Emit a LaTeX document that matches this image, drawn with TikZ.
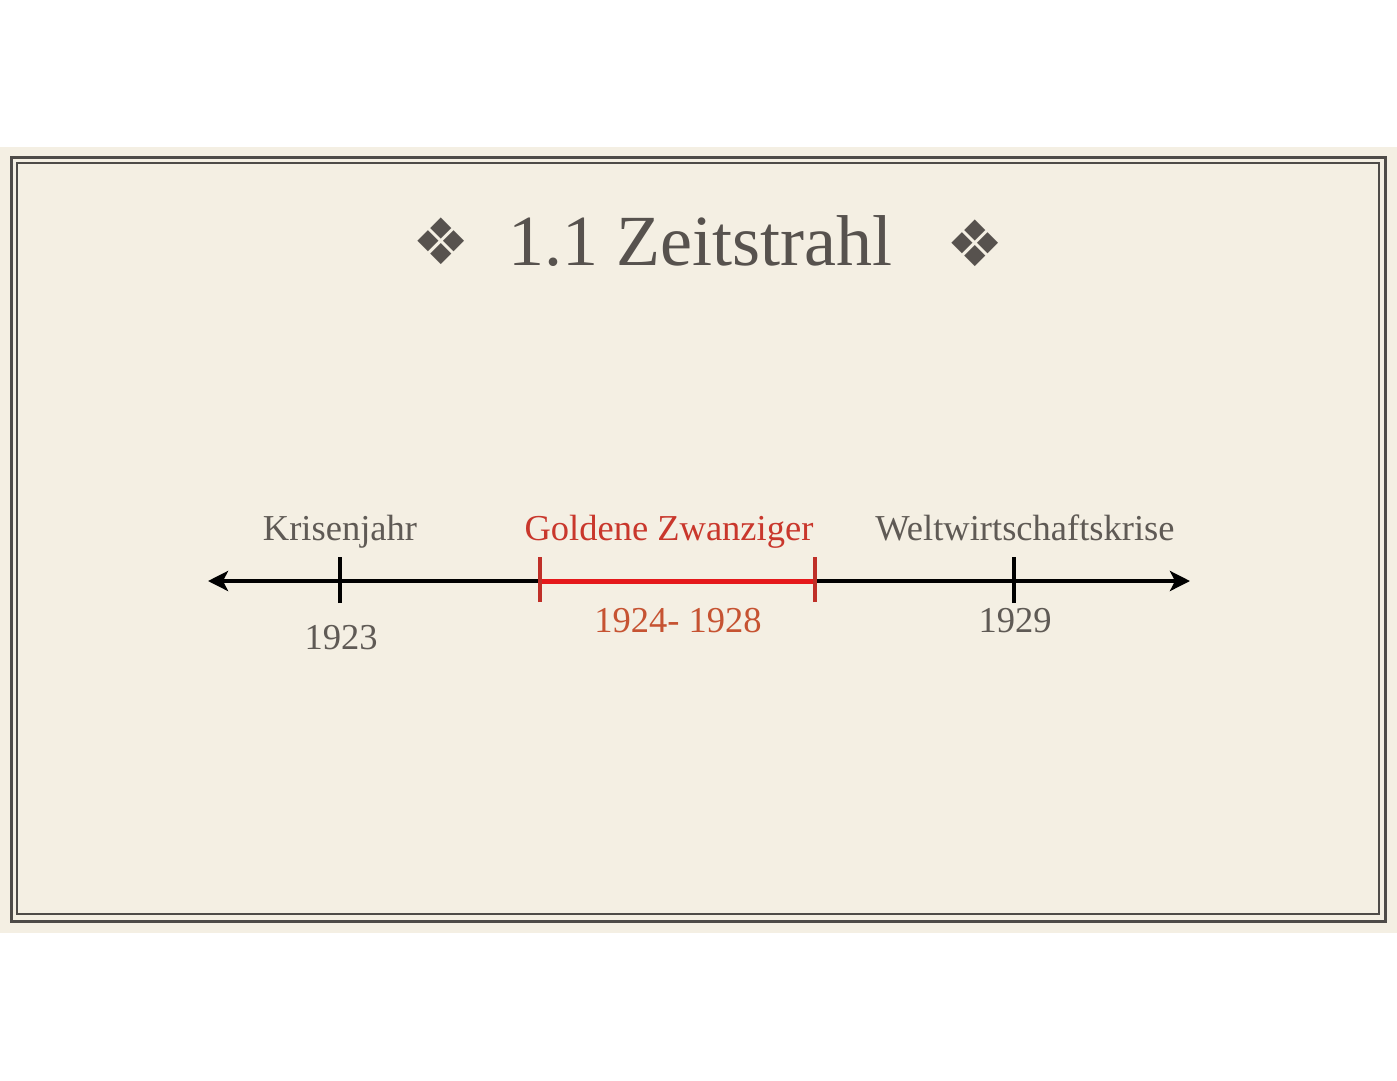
\documentclass[tikz,border=0pt]{standalone}
\usepackage{fontspec}
\setmainfont{Liberation Serif}
\newfontfamily\symfont{DejaVu Sans}
\usetikzlibrary{arrows.meta}
\definecolor{slidebg}{HTML}{F4EFE3}
\definecolor{framegrey}{HTML}{4E4B48}
\definecolor{textgrey}{HTML}{5F5A55}
\definecolor{titlegrey}{HTML}{57524E}
\definecolor{goldred}{HTML}{C9372C}
\definecolor{yearred}{HTML}{C65332}
\definecolor{barred}{HTML}{E5191B}
\definecolor{tickred}{HTML}{BF2F28}
\tikzset{
  lbl/.style={anchor=base, inner sep=0pt, font=\fontsize{36.5}{42}\selectfont, text=textgrey},
  titletxt/.style={anchor=base, inner sep=0pt, font=\fontsize{72}{80}\selectfont, text=titlegrey},
  orn/.style={inner sep=0pt, font=\symfont\fontsize{64}{70}\selectfont, text=titlegrey},
  axis/.style={line width=4pt, black, {Stealth[length=20pt,width=20pt,inset=5pt]}-{Stealth[length=20pt,width=20pt,inset=5pt]}},
  blacktick/.style={line width=3.5pt, black},
  redtick/.style={line width=3.2pt, tickred},
  redbar/.style={line width=5pt, barred},
  frameline/.style={draw=framegrey}
}
\begin{document}
\begin{tikzpicture}[x=1pt,y=-1pt]
\useasboundingbox (0,0) rectangle (1397,1080);
\fill[white] (0,0) rectangle (1397,1080);
\fill[slidebg] (0,147) rectangle (1397,933);
% frame
\draw[frameline, line width=3pt] (11,157) rectangle (1385,921);
\draw[frameline, line width=2pt] (17,163) rectangle (1379,914);
% title
\node[titletxt] (title) at (700,265) {1.1 Zeitstrahl};
\node[orn] (ornL) at (441,241) {❖};
\node[orn] (ornR) at (975,243) {❖};
% axis
\coordinate (L) at (208,581);
\coordinate (R) at (1190,581);
\draw[axis] (L) -- (R);
\coordinate (t1) at (340,581);
\coordinate (t2) at (540,581);
\coordinate (t3) at (815,581);
\coordinate (t4) at (1014,581);
\draw[redbar] (t2) -- (t3);
\draw[blacktick] ([yshift=-22pt]t1) -- ([yshift=24pt]t1);
\draw[blacktick] ([yshift=-22pt]t4) -- ([yshift=24pt]t4);
\draw[redtick] ([yshift=-21pt]t2) -- ([yshift=24pt]t2);
\draw[redtick] ([yshift=-21pt]t3) -- ([yshift=24pt]t3);
% labels
\node[lbl] (kj) at (340,540) {Krisenjahr};
\node[lbl, text=goldred] (gz) at (669,540) {Goldene Zwanziger};
\node[lbl] (ww) at (1025,540) {Weltwirtschaftskrise};
\node[lbl] (y1) at (341,649) {1923};
\node[lbl, text=yearred] (y2) at (678,632) {1924- 1928};
\node[lbl] (y3) at (1015,632) {1929};
\end{tikzpicture}
\end{document}
